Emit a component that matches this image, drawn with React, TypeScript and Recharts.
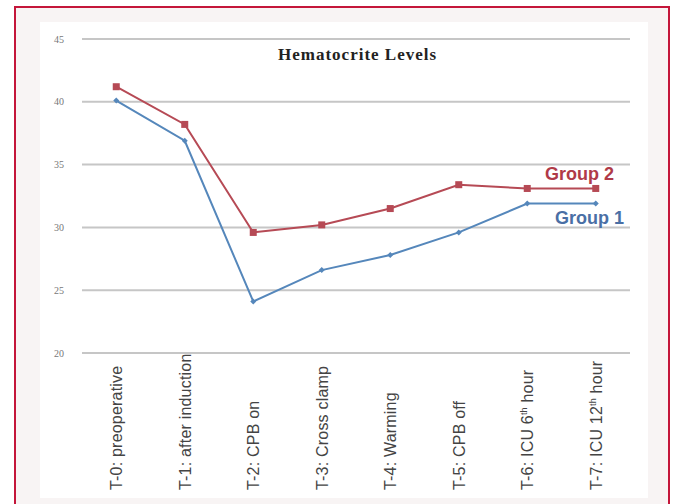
import { CartesianGrid, Line, LineChart, XAxis, YAxis } from "recharts";

const categories = [
  "T-0: preoperative",
  "T-1: after induction",
  "T-2: CPB on",
  "T-3: Cross clamp",
  "T-4: Warming",
  "T-5: CPB off",
  "T-6: ICU 6th hour",
  "T-7: ICU 12th hour",
];
const group1 = [40.1, 36.9, 24.1, 26.6, 27.8, 29.6, 31.9, 31.9];
const group2 = [41.2, 38.2, 29.6, 30.2, 31.5, 33.4, 33.1, 33.1];
const yTicks = [20, 25, 30, 35, 40, 45];

const data = categories.map((c, i) => ({ name: c, g1: group1[i], g2: group2[i] }));

const RED = "#b64a55";
const BLUE = "#5587bb";

function XTick({ x, y, payload }: any) {
  const v: string = payload.value;
  const m = v.match(/^(.*\d)(th)( hour)$/);
  return (
    <g transform={`translate(${x + 6},${y + 129}) rotate(-90)`}>
      <text
        textAnchor="start"
        fontSize={16}
        letterSpacing={0.2}
        fill="#444"
        fontFamily="Liberation Sans, Arial, sans-serif"
      >
        {m ? (
          <>
            {m[1]}
            <tspan fontSize={9} dy={-6}>{m[2]}</tspan>
            <tspan dy={6}>{m[3]}</tspan>
          </>
        ) : (
          v
        )}
      </text>
    </g>
  );
}

function Square({ cx, cy }: any) {
  return <rect x={cx - 3.5} y={cy - 3.5} width={7} height={7} fill={RED} />;
}

function Diamond({ cx, cy }: any) {
  return <path d={`M${cx},${cy - 3} L${cx + 3},${cy} L${cx},${cy + 3} L${cx - 3},${cy} Z`} fill={BLUE} />;
}

export default function App() {
  return (
    <div style={{ position: "absolute", left: 0, top: 0, width: 675, height: 504, background: "#fff", overflow: "hidden" }}>
      <div
        style={{
          position: "absolute",
          left: 14,
          top: 6,
          width: 656,
          height: 520,
          border: "2px solid #c4163a",
          background: "#f8f4f4",
          boxSizing: "border-box",
        }}
      />
      <div style={{ position: "absolute", left: 40, top: 22, width: 608, height: 476, background: "#fff" }} />
      <div style={{ position: "absolute", left: 0, top: 0 }}>
        <LineChart width={675} height={504} data={data} margin={{ top: 39, right: 45, bottom: 11, left: 40 }}>
          <CartesianGrid vertical={false} stroke="#c6c6c6" strokeWidth={2} />
          <XAxis
            dataKey="name"
            scale="band"
            axisLine={false}
            tickLine={false}
            interval={0}
            height={140}
            tick={<XTick />}
          />
          <YAxis
            domain={[20, 45]}
            ticks={yTicks}
            axisLine={false}
            tickLine={false}
            width={42}
            tickMargin={12}
            tick={{ fontSize: 10, fill: "#777", fontFamily: "Liberation Serif, serif" }}
          />
          <Line dataKey="g1" stroke={BLUE} strokeWidth={2} dot={<Diamond />} isAnimationActive={false} />
          <Line dataKey="g2" stroke={RED} strokeWidth={2} dot={<Square />} isAnimationActive={false} />
        </LineChart>
      </div>
      <div
        style={{
          position: "absolute",
          left: 278,
          top: 45,
          fontFamily: "Liberation Serif, serif",
          fontWeight: "bold",
          fontSize: 17,
          letterSpacing: 1,
          color: "#222",
          whiteSpace: "nowrap",
        }}
      >
        Hematocrite Levels
      </div>
      <div
        style={{
          position: "absolute",
          left: 545,
          top: 164,
          fontFamily: "Liberation Sans, Arial, sans-serif",
          fontWeight: "bold",
          fontSize: 18,
          color: "#b03a48",
        }}
      >
        Group 2
      </div>
      <div
        style={{
          position: "absolute",
          left: 555,
          top: 208,
          fontFamily: "Liberation Sans, Arial, sans-serif",
          fontWeight: "bold",
          fontSize: 18,
          color: "#4a6fa5",
        }}
      >
        Group 1
      </div>
    </div>
  );
}
